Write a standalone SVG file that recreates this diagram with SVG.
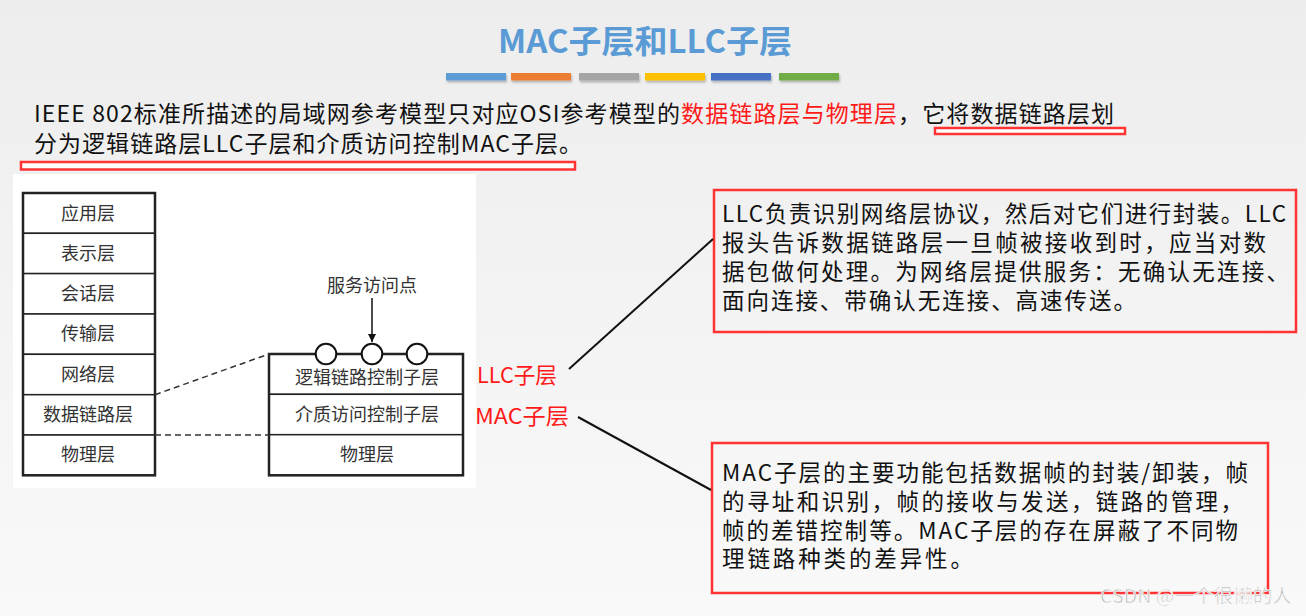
<svg xmlns="http://www.w3.org/2000/svg" width="1306" height="616" viewBox="0 0 1306 616">
<defs>
<linearGradient id="bg" x1="0" y1="0" x2="0" y2="1">
<stop offset="0" stop-color="#ededed"/>
<stop offset="1" stop-color="#f9f9f9"/>
</linearGradient>
<filter id="sh" x="-10%" y="-50%" width="130%" height="250%">
<feDropShadow dx="1" dy="2" stdDeviation="1.2" flood-color="#000" flood-opacity="0.25"/>
</filter>
<marker id="arr" viewBox="0 0 10 10" refX="10" refY="5" markerWidth="10" markerHeight="8" markerUnits="userSpaceOnUse" orient="auto">
<path d="M0,0 L10,5 L0,10 z" fill="#111"/>
</marker>
<style>
.t{font-family:"Noto Sans CJK SC","Noto Sans",sans-serif;}
.para{font-size:23px;fill:#111;}
.bt{font-size:22.5px;fill:#111;}
.red{fill:#ff1a1a;}
.box{fill:none;stroke:#ff3333;stroke-width:2.5;}
.ul{fill:#ffffff;stroke:#ff3333;stroke-width:2.5;}
.cell{fill:#ffffff;stroke:#222;stroke-width:1.5;}
.outer{fill:none;stroke:#222;stroke-width:2.5;}
.lbl{font-size:18px;fill:#333;text-anchor:middle;}
.dash{stroke:#333;stroke-width:1.5;stroke-dasharray:6 4;fill:none;}
.conn{stroke:#111;stroke-width:2;fill:none;}
.bar{filter:url(#sh);}
</style>
</defs>
<rect x="0" y="0" width="1306" height="616" fill="url(#bg)"/>

<g id="title">
<text class="t" x="645" y="53" font-size="32" font-weight="bold" fill="#5b9bd5" text-anchor="middle" textLength="294" lengthAdjust="spacingAndGlyphs">MAC子层和LLC子层</text>
<rect class="bar" x="446" y="73" width="60" height="7.5" fill="#5b9bd5"/>
<rect class="bar" x="511" y="73" width="60" height="7.5" fill="#ed7d31"/>
<rect class="bar" x="579" y="73" width="60" height="7.5" fill="#a5a5a5"/>
<rect class="bar" x="645" y="73" width="60" height="7.5" fill="#ffc000"/>
<rect class="bar" x="711" y="73" width="60" height="7.5" fill="#4472c4"/>
<rect class="bar" x="779" y="73" width="60" height="7.5" fill="#70ad47"/>
</g>

<g id="intro">
<rect class="ul" x="935" y="128" width="190" height="6"/>
<rect class="ul" x="21" y="162" width="554" height="7.5"/>
<text class="t para" x="34" y="122" textLength="1080" lengthAdjust="spacing">IEEE 802标准所描述的局域网参考模型只对应OSI参考模型的<tspan class="red">数据链路层与物理层</tspan>，它将数据链路层划</text>
<text class="t para" x="34" y="152" textLength="548" lengthAdjust="spacing">分为逻辑链路层LLC子层和介质访问控制MAC子层。</text>
</g>

<rect x="13" y="174" width="463" height="314" fill="#ffffff"/>

<g id="osi-stack">
<rect class="cell" x="23" y="193" width="132" height="40.3"/>
<rect class="cell" x="23" y="233.3" width="132" height="40.3"/>
<rect class="cell" x="23" y="273.6" width="132" height="40.4"/>
<rect class="cell" x="23" y="314" width="132" height="40.3"/>
<rect class="cell" x="23" y="354.3" width="132" height="40.4"/>
<rect class="cell" x="23" y="394.7" width="132" height="40.3"/>
<rect class="cell" x="23" y="435" width="132" height="40.3"/>
<rect class="outer" x="23" y="193" width="132" height="282.3"/>
<text class="t lbl" x="88" y="220">应用层</text>
<text class="t lbl" x="88" y="260">表示层</text>
<text class="t lbl" x="88" y="300">会话层</text>
<text class="t lbl" x="88" y="340">传输层</text>
<text class="t lbl" x="88" y="381">网络层</text>
<text class="t lbl" x="88" y="421">数据链路层</text>
<text class="t lbl" x="88" y="461">物理层</text>
</g>

<g id="lan-stack">
<rect class="cell" x="269" y="354" width="194" height="40.3"/>
<rect class="cell" x="269" y="394.3" width="194" height="40.4"/>
<rect class="cell" x="269" y="434.7" width="194" height="40.6"/>
<rect class="outer" x="269" y="354" width="194" height="121.3"/>
<text class="t lbl" x="367" y="384">逻辑链路控制子层</text>
<text class="t lbl" x="367" y="421">介质访问控制子层</text>
<text class="t lbl" x="367" y="461">物理层</text>
<circle cx="326" cy="354" r="10.3" fill="#fff" stroke="#111" stroke-width="2"/>
<circle cx="372" cy="354" r="10.3" fill="#fff" stroke="#111" stroke-width="2"/>
<circle cx="417" cy="354" r="10.3" fill="#fff" stroke="#111" stroke-width="2"/>
</g>

<g id="sap">
<text class="t lbl" x="372" y="292">服务访问点</text>
</g>

<g id="llc-label">
<text class="t red" x="477" y="383" font-size="22" textLength="80" lengthAdjust="spacingAndGlyphs">LLC子层</text>
</g>
<g id="mac-label">
<text class="t red" x="475" y="424" font-size="22" textLength="94" lengthAdjust="spacingAndGlyphs">MAC子层</text>
</g>

<g id="llc-box">
<rect class="box" x="714" y="190" width="582" height="142"/>
<text class="t bt" x="722" y="222" textLength="564" lengthAdjust="spacing">LLC负责识别网络层协议，然后对它们进行封装。LLC</text>
<text class="t bt" x="722" y="251" textLength="544" lengthAdjust="spacing">报头告诉数据链路层一旦帧被接收到时，应当对数</text>
<text class="t bt" x="722" y="280" textLength="567" lengthAdjust="spacing">据包做何处理。为网络层提供服务：无确认无连接、</text>
<text class="t bt" x="722" y="309" textLength="414" lengthAdjust="spacing">面向连接、带确认无连接、高速传送。</text>
</g>

<g id="mac-box">
<rect class="box" x="712" y="443" width="556" height="150"/>
<text class="t bt" x="722" y="481" textLength="526" lengthAdjust="spacing">MAC子层的主要功能包括数据帧的封装/卸装，帧</text>
<text class="t bt" x="722" y="510" textLength="521" lengthAdjust="spacing">的寻址和识别，帧的接收与发送，链路的管理，</text>
<text class="t bt" x="722" y="539" textLength="516" lengthAdjust="spacing">帧的差错控制等。MAC子层的存在屏蔽了不同物</text>
<text class="t bt" x="722" y="567" textLength="251" lengthAdjust="spacing">理链路种类的差异性。</text>
</g>

<g id="connectors">
<line class="dash" x1="155" y1="394.7" x2="269" y2="354"/>
<line class="dash" x1="155" y1="435" x2="269" y2="435"/>
<line x1="372" y1="298" x2="372" y2="342" stroke="#111" stroke-width="1.5" marker-end="url(#arr)"/>
<line class="conn" x1="569" y1="369" x2="713" y2="239"/>
<line class="conn" x1="578" y1="417" x2="711" y2="490"/>
</g>

<g id="watermark">
<text class="t" x="1100" y="603" font-size="19" fill="#b5b5b5" stroke="#ffffff" stroke-width="0.6" textLength="192" lengthAdjust="spacingAndGlyphs">CSDN @一个很懒的人</text>
</g>
</svg>
